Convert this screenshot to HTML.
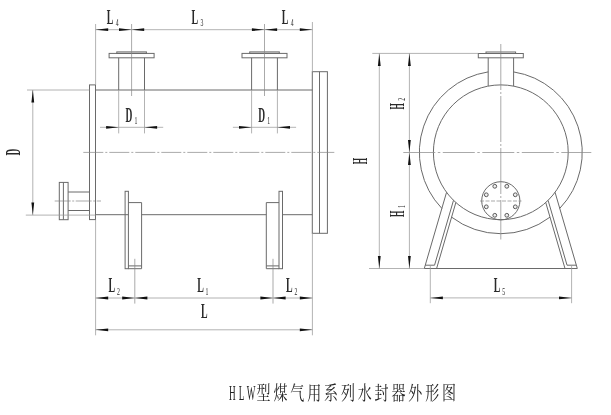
<!DOCTYPE html>
<html lang="zh-CN">
<head>
<meta charset="utf-8">
<title>HLW型煤气用系列水封器外形图</title>
<style>
html,body{margin:0;padding:0;background:#fff;}
body{width:611px;height:415px;overflow:hidden;position:relative;}
svg{position:absolute;left:0;top:0;display:block;filter:grayscale(1);}
.o{stroke:#6a6a6a;stroke-width:1;fill:none;}
.t{stroke:#9a9a9a;stroke-width:0.75;fill:none;}
.c{stroke:#858585;stroke-width:0.7;fill:none;}
.h{stroke:#5a5a5a;fill:#efefef;}
.a{fill:#111;stroke:none;}
.lab{font-family:"Liberation Serif",serif;font-weight:bold;fill:#2a2a2a;}
.sub{font-weight:normal;}
.title{position:absolute;left:228.6px;top:376px;margin:0;white-space:nowrap;
 font-family:"Liberation Serif","Noto Serif CJK SC",serif;font-weight:400;
 font-size:14px;line-height:24px;letter-spacing:2.86px;color:#222;
 transform-origin:0 0;transform:scale(1,1.42);filter:grayscale(1);}
.title .en{display:inline-block;width:28px;height:10px;vertical-align:baseline;letter-spacing:0;}
.title .en b{display:inline-block;font-weight:400;font-size:15.4px;letter-spacing:5.1px;transform:scale(0.6,1);transform-origin:0 100%;}
</style>
</head>
<body>
<svg width="611" height="415" viewBox="0 0 611 415">
<rect x="0" y="0" width="611" height="415" fill="#fff"/>
<line class="o" x1="95.60" y1="90.00" x2="312.40" y2="90.00"/>
<line class="o" x1="95.60" y1="214.70" x2="128.40" y2="214.70"/>
<line class="o" x1="141.60" y1="214.70" x2="266.30" y2="214.70"/>
<line class="o" x1="282.50" y1="214.70" x2="312.40" y2="214.70"/>
<rect class="o" x="89.50" y="84.90" width="6.00" height="134.70"/>
<rect class="o" x="312.30" y="71.70" width="15.10" height="161.60"/>
<line class="o" x1="319.50" y1="71.70" x2="319.50" y2="233.30"/>
<rect class="o" x="109.10" y="53.40" width="45.00" height="4.40"/>
<rect class="o" x="116.80" y="51.90" width="29.60" height="1.50"/>
<line class="o" x1="118.70" y1="57.80" x2="118.70" y2="90.00"/>
<line class="o" x1="144.50" y1="57.80" x2="144.50" y2="90.00"/>
<line class="t" x1="118.70" y1="90.00" x2="118.70" y2="133.40"/>
<line class="t" x1="144.50" y1="90.00" x2="144.50" y2="133.40"/>
<line class="c" x1="131.60" y1="24.00" x2="131.60" y2="96.00"/>
<line class="t" x1="100.00" y1="127.30" x2="163.20" y2="127.30"/>
<polygon class="a" points="118.70,127.30 106.10,125.90 106.10,128.70"/>
<polygon class="a" points="144.50,127.30 157.10,128.70 157.10,125.90"/>
<g transform="translate(125.40,121.60)">
<text class="lab" transform="scale(0.43,1)" font-size="22">D</text>
<text class="lab sub" transform="translate(9.00,2.10) scale(0.58,1)" font-size="10">1</text>
</g>
<rect class="o" x="242.00" y="53.40" width="45.00" height="4.40"/>
<rect class="o" x="249.70" y="51.90" width="29.60" height="1.50"/>
<line class="o" x1="251.60" y1="57.80" x2="251.60" y2="90.00"/>
<line class="o" x1="277.40" y1="57.80" x2="277.40" y2="90.00"/>
<line class="t" x1="251.60" y1="90.00" x2="251.60" y2="133.40"/>
<line class="t" x1="277.40" y1="90.00" x2="277.40" y2="133.40"/>
<line class="c" x1="264.50" y1="24.00" x2="264.50" y2="96.00"/>
<line class="t" x1="232.90" y1="127.30" x2="296.10" y2="127.30"/>
<polygon class="a" points="251.60,127.30 239.00,125.90 239.00,128.70"/>
<polygon class="a" points="277.40,127.30 290.00,128.70 290.00,125.90"/>
<g transform="translate(258.30,121.60)">
<text class="lab" transform="scale(0.43,1)" font-size="22">D</text>
<text class="lab sub" transform="translate(9.00,2.10) scale(0.58,1)" font-size="10">1</text>
</g>
<line class="c" x1="83.30" y1="152.40" x2="334.30" y2="152.40" stroke-dasharray="20 2 2 2"/>
<rect class="o" x="59.30" y="182.40" width="8.80" height="37.30"/>
<line class="o" x1="63.40" y1="182.40" x2="63.40" y2="219.70"/>
<line class="o" x1="68.10" y1="192.00" x2="89.50" y2="192.00"/>
<line class="o" x1="68.10" y1="210.50" x2="89.50" y2="210.50"/>
<line class="c" x1="54.70" y1="201.00" x2="101.00" y2="201.00" stroke-dasharray="16 1.5 2 1.5"/>
<rect class="o" x="125.10" y="191.30" width="3.30" height="77.40"/>
<line class="o" x1="128.40" y1="202.60" x2="141.60" y2="202.60"/>
<line class="o" x1="141.60" y1="202.60" x2="141.60" y2="268.70"/>
<line class="o" x1="128.40" y1="268.70" x2="141.60" y2="268.70"/>
<line class="o" x1="128.40" y1="265.90" x2="141.60" y2="265.90"/>
<rect class="o" x="279.00" y="191.30" width="3.50" height="77.40"/>
<line class="o" x1="266.30" y1="202.60" x2="279.00" y2="202.60"/>
<line class="o" x1="266.30" y1="202.60" x2="266.30" y2="268.70"/>
<line class="o" x1="266.30" y1="268.70" x2="279.00" y2="268.70"/>
<line class="o" x1="266.30" y1="265.90" x2="279.00" y2="265.90"/>
<line class="c" x1="134.80" y1="258.80" x2="134.80" y2="303.60"/>
<line class="c" x1="273.00" y1="258.80" x2="273.00" y2="303.60"/>
<line class="t" x1="95.60" y1="24.00" x2="95.60" y2="84.90"/>
<line class="t" x1="312.40" y1="22.00" x2="312.40" y2="71.70"/>
<line class="t" x1="95.60" y1="29.70" x2="312.40" y2="29.70"/>
<polygon class="a" points="95.60,29.70 108.20,31.10 108.20,28.30"/>
<polygon class="a" points="131.60,29.70 119.00,28.30 119.00,31.10"/>
<polygon class="a" points="131.60,29.70 144.20,31.10 144.20,28.30"/>
<polygon class="a" points="264.50,29.70 251.90,28.30 251.90,31.10"/>
<polygon class="a" points="264.50,29.70 277.10,31.10 277.10,28.30"/>
<polygon class="a" points="312.40,29.70 299.80,28.30 299.80,31.10"/>
<g transform="translate(106.80,23.80)">
<text class="lab" transform="scale(0.45,1)" font-size="22">L</text>
<text class="lab sub" transform="translate(9.00,2.10) scale(0.58,1)" font-size="10">4</text>
</g>
<g transform="translate(191.50,23.80)">
<text class="lab" transform="scale(0.45,1)" font-size="22">L</text>
<text class="lab sub" transform="translate(9.00,2.10) scale(0.58,1)" font-size="10">3</text>
</g>
<g transform="translate(281.70,23.80)">
<text class="lab" transform="scale(0.45,1)" font-size="22">L</text>
<text class="lab sub" transform="translate(9.00,2.10) scale(0.58,1)" font-size="10">4</text>
</g>
<line class="t" x1="27.00" y1="90.00" x2="89.50" y2="90.00"/>
<line class="t" x1="25.80" y1="215.10" x2="95.50" y2="215.10"/>
<line class="t" x1="32.80" y1="90.00" x2="32.80" y2="215.10"/>
<polygon class="a" points="32.80,90.00 31.40,102.60 34.20,102.60"/>
<polygon class="a" points="32.80,215.10 34.20,202.50 31.40,202.50"/>
<g transform="translate(20.20,155.60) rotate(-90)">
<text class="lab" transform="scale(0.43,1)" font-size="22">D</text>
</g>
<line class="t" x1="95.60" y1="219.60" x2="95.60" y2="335.30"/>
<line class="t" x1="312.40" y1="233.30" x2="312.40" y2="335.30"/>
<line class="t" x1="95.60" y1="298.00" x2="312.40" y2="298.00"/>
<polygon class="a" points="95.60,298.00 108.20,299.40 108.20,296.60"/>
<polygon class="a" points="134.80,298.00 122.20,296.60 122.20,299.40"/>
<polygon class="a" points="134.80,298.00 147.40,299.40 147.40,296.60"/>
<polygon class="a" points="273.00,298.00 260.40,296.60 260.40,299.40"/>
<polygon class="a" points="273.00,298.00 285.60,299.40 285.60,296.60"/>
<polygon class="a" points="312.40,298.00 299.80,296.60 299.80,299.40"/>
<g transform="translate(108.60,292.40)">
<text class="lab" transform="scale(0.45,1)" font-size="22">L</text>
<text class="lab sub" transform="translate(8.40,2.10) scale(0.58,1)" font-size="10">2</text>
</g>
<g transform="translate(197.20,292.40)">
<text class="lab" transform="scale(0.45,1)" font-size="22">L</text>
<text class="lab sub" transform="translate(8.40,2.10) scale(0.58,1)" font-size="10">1</text>
</g>
<g transform="translate(286.00,292.40)">
<text class="lab" transform="scale(0.45,1)" font-size="22">L</text>
<text class="lab sub" transform="translate(8.40,2.10) scale(0.58,1)" font-size="10">2</text>
</g>
<line class="t" x1="95.60" y1="329.80" x2="312.40" y2="329.80"/>
<polygon class="a" points="95.60,329.80 108.20,331.20 108.20,328.40"/>
<polygon class="a" points="312.40,329.80 299.80,328.40 299.80,331.20"/>
<g transform="translate(201.00,317.60)">
<text class="lab" transform="scale(0.45,1)" font-size="22">L</text>
</g>
<path class="o" d="M513.60,71.91 A81.4,81.4 0 0 1 559.76,208.42"/>
<path class="o" d="M550.00,217.15 A81.4,81.4 0 0 1 451.60,217.15"/>
<path class="o" d="M441.84,208.42 A81.4,81.4 0 0 1 488.20,71.88"/>
<circle class="o" cx="500.8" cy="152.3" r="67.4"/>
<rect class="o" x="478.30" y="53.50" width="45.00" height="4.30"/>
<rect class="o" x="486.00" y="52.00" width="29.60" height="1.50"/>
<line class="o" x1="488.20" y1="57.80" x2="488.20" y2="86.09"/>
<line class="o" x1="513.60" y1="57.80" x2="513.60" y2="86.09"/>
<line class="c" x1="500.80" y1="44.00" x2="500.80" y2="239.50" stroke-dasharray="46 2 2 2"/>
<line class="c" x1="403.30" y1="152.50" x2="591.30" y2="152.50" stroke-dasharray="32 2.5 2.5 2.5"/>
<circle class="o" cx="500.8" cy="200.8" r="19.1"/>
<circle class="o h" cx="515.30" cy="206.81" r="1.9"/>
<circle class="o h" cx="506.81" cy="215.30" r="1.9"/>
<circle class="o h" cx="494.79" cy="215.30" r="1.9"/>
<circle class="o h" cx="486.30" cy="206.81" r="1.9"/>
<circle class="o h" cx="486.30" cy="194.79" r="1.9"/>
<circle class="o h" cx="494.79" cy="186.30" r="1.9"/>
<circle class="o h" cx="506.81" cy="186.30" r="1.9"/>
<circle class="o h" cx="515.30" cy="194.79" r="1.9"/>
<line class="c" x1="480.00" y1="201.00" x2="521.50" y2="201.00" stroke-dasharray="4 1.5"/>
<line class="o" x1="446.55" y1="192.30" x2="424.30" y2="268.50"/>
<line class="o" x1="453.51" y1="200.32" x2="434.56" y2="265.20"/>
<line class="o" x1="455.86" y1="202.53" x2="436.60" y2="268.50"/>
<line class="o" x1="425.26" y1="265.20" x2="434.56" y2="265.20"/>
<line class="o" x1="555.05" y1="192.30" x2="577.30" y2="268.50"/>
<line class="o" x1="548.09" y1="200.32" x2="567.04" y2="265.20"/>
<line class="o" x1="545.74" y1="202.53" x2="565.00" y2="268.50"/>
<line class="o" x1="576.34" y1="265.20" x2="567.04" y2="265.20"/>
<line class="t" x1="369.00" y1="268.50" x2="424.30" y2="268.50"/>
<line class="o" x1="424.30" y1="268.50" x2="577.30" y2="268.50"/>
<line class="t" x1="372.30" y1="53.40" x2="478.30" y2="53.40"/>
<line class="t" x1="379.30" y1="53.40" x2="379.30" y2="268.50"/>
<polygon class="a" points="379.30,53.40 377.90,66.00 380.70,66.00"/>
<polygon class="a" points="379.30,268.50 380.70,255.90 377.90,255.90"/>
<line class="t" x1="409.40" y1="53.40" x2="409.40" y2="268.50"/>
<polygon class="a" points="409.40,53.40 408.00,66.00 410.80,66.00"/>
<polygon class="a" points="409.40,268.50 410.80,255.90 408.00,255.90"/>
<polygon class="a" points="409.40,152.50 410.80,139.90 408.00,139.90"/>
<polygon class="a" points="409.40,152.50 408.00,165.10 410.80,165.10"/>
<g transform="translate(366.70,164.20) rotate(-90)">
<text class="lab" transform="scale(0.37,1)" font-size="22">H</text>
</g>
<g transform="translate(403.60,109.60) rotate(-90)">
<text class="lab" transform="scale(0.37,1)" font-size="22">H</text>
<text class="lab sub" transform="translate(8.80,1.30) scale(0.58,1)" font-size="10">2</text>
</g>
<g transform="translate(403.60,216.90) rotate(-90)">
<text class="lab" transform="scale(0.37,1)" font-size="22">H</text>
<text class="lab sub" transform="translate(9.00,1.60) scale(0.58,1)" font-size="10">1</text>
</g>
<line class="t" x1="430.30" y1="265.00" x2="430.30" y2="303.20"/>
<line class="t" x1="571.60" y1="265.00" x2="571.60" y2="303.20"/>
<line class="t" x1="430.30" y1="297.90" x2="571.60" y2="297.90"/>
<polygon class="a" points="430.30,297.90 442.90,299.30 442.90,296.50"/>
<polygon class="a" points="571.60,297.90 559.00,296.50 559.00,299.30"/>
<g transform="translate(493.80,292.40)">
<text class="lab" transform="scale(0.45,1)" font-size="22">L</text>
<text class="lab sub" transform="translate(8.40,2.10) scale(0.58,1)" font-size="10">5</text>
</g>
</svg>
<p class="title"><span class="en"><b>HLW</b></span>型煤气用系列水封器外形图</p>
</body>
</html>
